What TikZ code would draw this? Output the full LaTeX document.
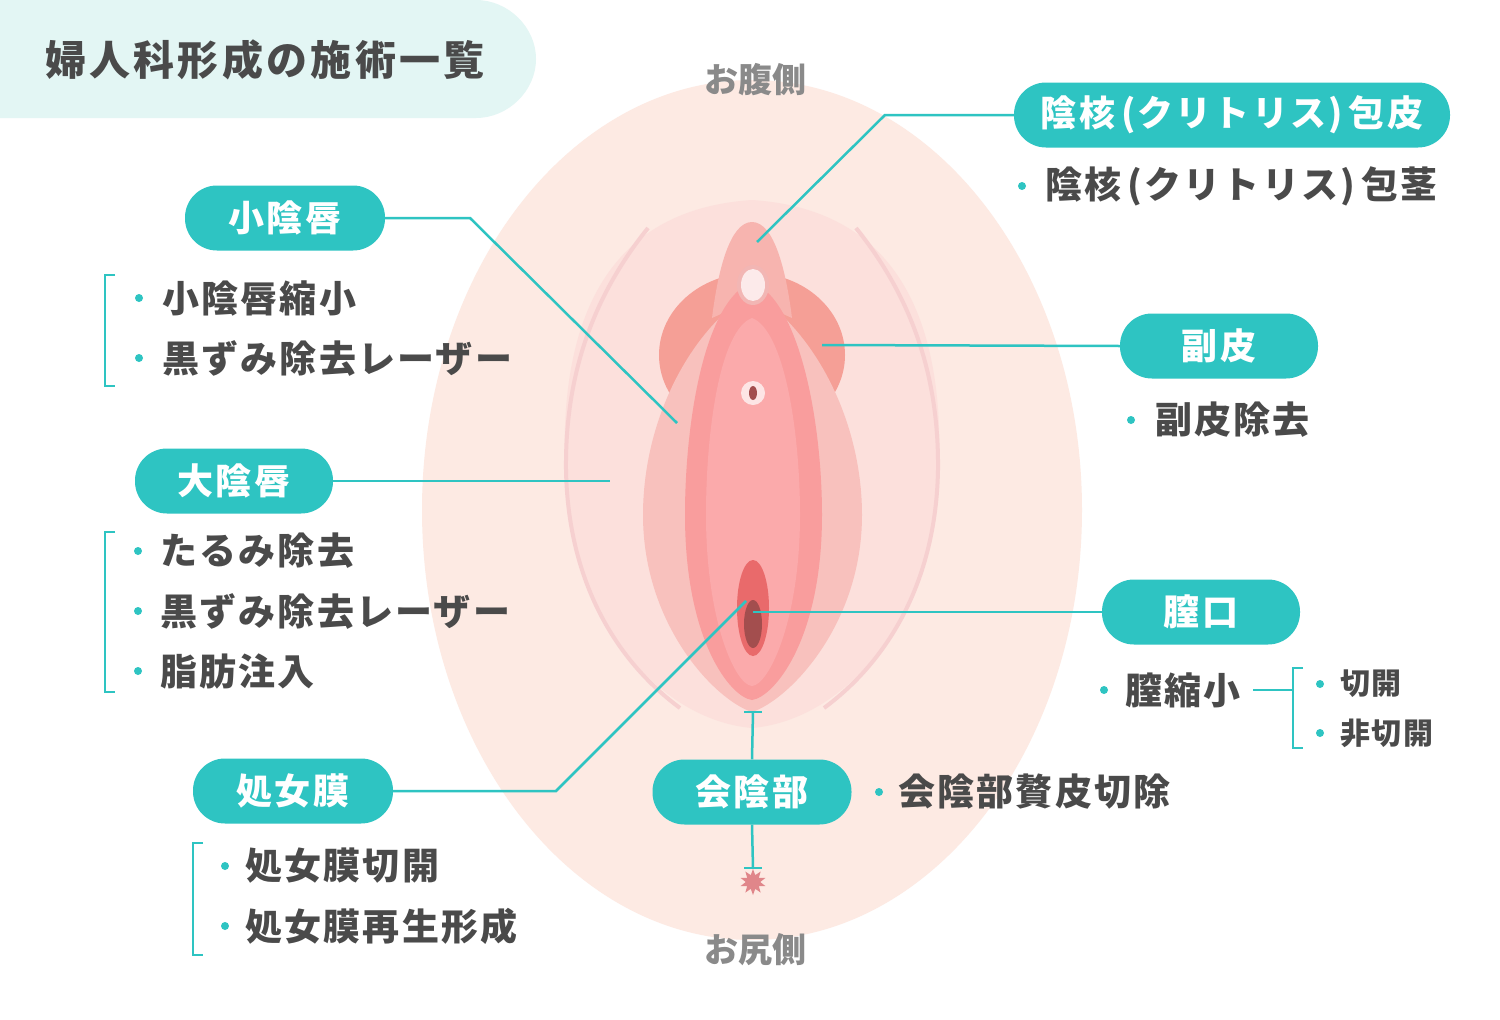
\documentclass[tikz,border=0pt]{standalone}
\usepackage{fontspec}
\setmainfont{Noto Sans CJK JP}
\usetikzlibrary{shapes.geometric}
\definecolor{teal}{HTML}{2EC4C2}
\definecolor{mint}{HTML}{E3F6F4}
\definecolor{peach}{HTML}{FDEAE3}
\definecolor{majora}{HTML}{FCE0DC}
\definecolor{arc}{HTML}{F6D0D0}
\definecolor{bulge}{HTML}{F59F96}
\definecolor{outerl}{HTML}{F8C1BD}
\definecolor{innerl}{HTML}{F99D9D}
\definecolor{innerm}{HTML}{FBAAAB}
\definecolor{hood}{HTML}{F7B4AF}
\definecolor{ring}{HTML}{F2B6B4}
\definecolor{clit}{HTML}{FCEAEA}
\definecolor{dark}{HTML}{A34E4E}
\definecolor{opening}{HTML}{E96A6B}
\definecolor{txt}{HTML}{4A4A4A}
\definecolor{gry}{HTML}{8A8A8A}
\definecolor{starc}{HTML}{E0868A}
\newcommand{\pl}{\kern6pt(}
\newcommand{\pr}{)\kern6pt}
\begin{document}
\begin{tikzpicture}[x=1pt,y=-1pt,
  pill/.style={fill=teal,text=white,rounded corners=32pt,minimum height=65pt,font=\fontsize{36}{38}\selectfont\bfseries\addfontfeature{LetterSpace=6},inner xsep=18pt},
  conn/.style={draw=teal,line width=2.5pt},
  item/.style={anchor=west,text=txt,font=\fontsize{37}{38}\selectfont\bfseries\addfontfeature{LetterSpace=6},inner sep=0pt},
  sitem/.style={anchor=west,text=txt,font=\fontsize{30}{32}\selectfont\bfseries\addfontfeature{LetterSpace=6},inner sep=0pt},
  side/.style={text=gry,font=\fontsize{34}{36}\selectfont\bfseries},
  dot/.style={fill=teal,circle,inner sep=0pt,minimum size=8pt},
  brk/.style={draw=teal,line width=2pt}]
\useasboundingbox (0,0) rectangle (1500,1020);
\fill[white] (0,0) rectangle (1500,1020);
% title
\fill[mint] (0,0) -- (476,0) .. controls (508,0) and (536,27) .. (536,59) .. controls (536,91) and (508,118) .. (476,118) -- (0,118) -- cycle;
\node[anchor=west,inner sep=0pt,text=txt,font=\fontsize{41}{44}\selectfont\bfseries\addfontfeature{LetterSpace=8}] (title) at (45,60) {婦人科形成の施術一覧};
% anatomy
\fill[peach] (752,510) ellipse[x radius=330,y radius=430];
\fill[majora] (752,200) .. controls (600,210) and (560,330) .. (565,470) .. controls (570,620) and (660,720) .. (752,728) .. controls (844,720) and (934,620) .. (939,470) .. controls (944,330) and (904,210) .. (752,200) -- cycle;
\draw[arc,line width=4pt] (648,228) .. controls (590,300) and (565,380) .. (566,470) .. controls (568,580) and (615,660) .. (680,708);
\draw[arc,line width=4pt] (856,228) .. controls (914,300) and (939,380) .. (938,470) .. controls (936,580) and (889,660) .. (824,708);
\fill[bulge] (752,355) ellipse[x radius=93,y radius=82];
\fill[outerl] (752,292) .. controls (690,330) and (643,420) .. (643,515) .. controls (643,625) and (715,700) .. (752,712) .. controls (789,700) and (862,625) .. (862,515) .. controls (862,420) and (814,330) .. (752,292) -- cycle;
\fill[hood] (752,222) .. controls (730,222) and (718,270) .. (712,318) -- (752,300) -- (792,318) .. controls (786,270) and (774,222) .. (752,222) -- cycle;
\fill[innerl] (752,282) .. controls (705,300) and (685,420) .. (685,515) .. controls (685,640) and (730,697) .. (752,700) .. controls (774,697) and (822,640) .. (822,515) .. controls (822,420) and (799,300) .. (752,282) -- cycle;
\fill[innerm] (752,318) .. controls (720,330) and (706,430) .. (706,515) .. controls (706,620) and (735,685) .. (752,686) .. controls (769,685) and (800,620) .. (800,515) .. controls (800,430) and (784,330) .. (752,318) -- cycle;
\fill[ring] (753,285) ellipse[x radius=16,y radius=20];
\fill[clit] (753,285) ellipse[x radius=12,y radius=16];
\fill[white,opacity=.7] (753,393) circle[radius=12];
\fill[dark] (753,393) ellipse[x radius=4,y radius=7];
\fill[opening] (753,608) ellipse[x radius=16,y radius=48];
\fill[dark] (753,624) ellipse[x radius=9,y radius=24];
% points
\coordinate (pHood) at (757,242);
\coordinate (pMin) at (677,423);
\coordinate (pFuku) at (822,345);
\coordinate (pMaj) at (610,481);
\coordinate (pVag) at (753,612);
\coordinate (pHym) at (746,601);
\coordinate (pTop) at (753,712);
\coordinate (pBot) at (753,868);
\node[star,star points=10,star point ratio=1.8,fill=starc,minimum size=26pt,inner sep=0pt] (anus) at (753,882) {};
% pills
\node[pill,minimum width=436pt] (nHood) at (1232,115) {陰核\pl クリトリス\pr 包皮};
\node[pill,minimum width=200pt] (nMin) at (285,218) {小陰唇};
\node[pill,minimum width=198pt] (nFuku) at (1219,346) {副皮};
\node[pill,minimum width=198pt] (nMaj) at (234,481) {大陰唇};
\node[pill,minimum width=198pt] (nVag) at (1201,612) {膣口};
\node[pill,minimum width=200pt] (nHym) at (293,791) {処女膜};
\node[pill,minimum width=199pt] (nPer) at (752,792) {会陰部};
% connectors
\draw[conn] (nHood.west) -- (885,115) -- (pHood);
\draw[conn] (nMin.east) -- (470,218) -- (pMin);
\draw[conn] (nFuku.west) -- (pFuku);
\draw[conn] (nMaj.east) -- (pMaj);
\draw[conn] (nVag.west) -- (pVag);
\draw[conn] (nHym.east) -- (556,791) -- (pHym);
\draw[conn] (pTop) -- (nPer.north);
\draw[conn] (744,712) -- (762,712);
\draw[conn] (nPer.south) -- (pBot);
\draw[conn] (744,868) -- (762,868);
% side labels
\node[side] (belly) at (755,80) {お腹側};
\node[side] (rear) at (755,950) {お尻側};
% bullet items
\node[dot] at (1022,186) {}; \node[item] (i1) at (1045,186) {陰核\pl クリトリス\pr 包茎};
\node[dot] at (139,298) {}; \node[item] (i2) at (162,298) {小陰唇縮小};
\node[dot] at (139,358) {}; \node[item] (i3) at (162,358) {黒ずみ除去レーザー};
\draw[brk] (115,275) -- (105,275) -- (105,386) -- (115,386);
\node[dot] at (1131,420) {}; \node[item] (i4) at (1155,420) {副皮除去};
\node[dot] at (138,551) {}; \node[item] (i5) at (160,551) {たるみ除去};
\node[dot] at (138,611) {}; \node[item] (i6) at (160,611) {黒ずみ除去レーザー};
\node[dot] at (138,671) {}; \node[item] (i7) at (160,671) {脂肪注入};
\draw[brk] (115,532) -- (105,532) -- (105,692) -- (115,692);
\node[dot] at (1104,690) {}; \node[item] (i8) at (1125,690) {膣縮小};
\draw[brk] (1253,690) -- (1293,690);
\draw[brk] (1303,668) -- (1293,668) -- (1293,748) -- (1303,748);
\node[dot] at (1320,684) {}; \node[sitem] (i9) at (1340,684) {切開};
\node[dot] at (1320,733) {}; \node[sitem] (i10) at (1340,733) {非切開};
\node[dot] at (879,792) {}; \node[item] (i11) at (898,792) {会陰部贅皮切除};
\node[dot] at (225,866) {}; \node[item] (i12) at (245,866) {処女膜切開};
\node[dot] at (225,926) {}; \node[item] (i13) at (245,926) {処女膜再生形成};
\draw[brk] (203,843) -- (193,843) -- (193,955) -- (203,955);
\end{tikzpicture}
\end{document}
